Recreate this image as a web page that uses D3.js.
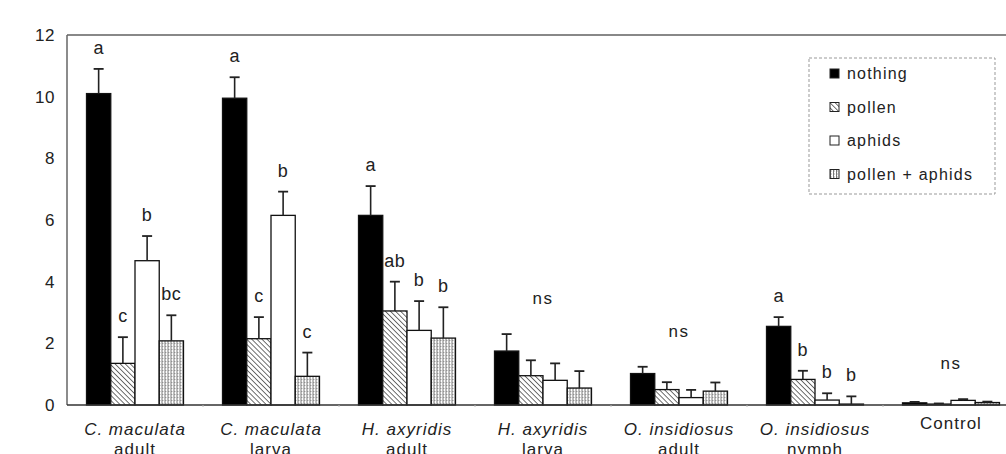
<!DOCTYPE html>
<html>
<head>
<meta charset="utf-8">
<script src="https://cdn.jsdelivr.net/npm/d3@7"></script>
<style>
  body { margin: 0; background: #fff; }
  svg { display: block; font-family: "Liberation Sans", Arial, sans-serif; }
</style>
</head>
<body>
<div id="chart"></div>
<script>
// data
var species = ["C. maculata", "C. maculata", "H. axyridis", "H. axyridis", "O. insidiosus", "O. insidiosus", "Control"];
var stages  = ["adult", "larva", "adult", "larva", "adult", "nymph", ""];
var series  = ["nothing", "pollen", "aphids", "pollen + aphids"];

var nothing    = [10.1, 9.95, 6.15, 1.75, 1.02, 2.55, 0.07];
var pollen     = [1.35, 2.15, 3.05, 0.95, 0.5, 0.83, 0.03];
var aphids     = [4.68, 6.15, 2.42, 0.8, 0.24, 0.16, 0.15];
var pollenAph  = [2.08, 0.93, 2.17, 0.55, 0.45, 0.03, 0.08];

var errNothing   = [0.8, 0.68, 0.95, 0.55, 0.22, 0.3, 0.03];
var errPollen    = [0.85, 0.7, 0.95, 0.5, 0.24, 0.28, 0.02];
var errAphids    = [0.8, 0.77, 0.95, 0.55, 0.25, 0.22, 0.04];
var errPollenAph = [0.83, 0.77, 1.0, 0.55, 0.28, 0.25, 0.03];

var letters = [["a", "c", "b", "bc"], ["a", "c", "b", "c"], ["a", "ab", "b", "b"], null, null, ["a", "b", "b", "b"], null];
var yTicks  = [0, 2, 4, 6, 8, 10, 12];

var values = [nothing, pollen, aphids, pollenAph];
var errors = [errNothing, errPollen, errAphids, errPollenAph];

const width = 1006, height = 454;
const mLeft = 67, mTop = 35, mBottom = 405, mRight = 1019;

const svg = d3.select("#chart").append("svg")
  .attr("width", width).attr("height", height);

// fill patterns
var defs = svg.append("defs");
var hatch = defs.append("pattern").attr("id", "hatch")
  .attr("patternUnits", "userSpaceOnUse").attr("width", 3.6).attr("height", 3.6)
  .attr("patternTransform", "rotate(-45)");
hatch.append("rect").attr("width", 3.6).attr("height", 3.6).attr("fill", "#fff");
hatch.append("line").attr("x1", 0).attr("y1", 0).attr("x2", 0).attr("y2", 3.6)
  .attr("stroke", "#222").attr("stroke-width", 1.3);

var stipple = defs.append("pattern").attr("id", "stipple")
  .attr("patternUnits", "userSpaceOnUse").attr("width", 3).attr("height", 3);
stipple.append("rect").attr("width", 3).attr("height", 3).attr("fill", "#fff");
stipple.append("rect").attr("x", 0).attr("y", 0).attr("width", 1).attr("height", 3).attr("fill", "#777");
stipple.append("rect").attr("x", 1).attr("y", 1).attr("width", 1).attr("height", 1).attr("fill", "#aaa");

var fills = ["#000", "url(#hatch)", "#fff", "url(#stipple)"];

// scales
var x0 = d3.scaleBand().domain(d3.range(species.length))
  .range([mLeft, mRight]).paddingInner(0.287).paddingOuter(0.1435);
var x1 = d3.scaleBand().domain(d3.range(series.length)).range([0, x0.bandwidth()]);
var y = d3.scaleLinear().domain([0, 12]).range([mBottom, mTop]);

// frame
svg.append("line").attr("x1", mLeft).attr("x2", width).attr("y1", mTop).attr("y2", mTop)
  .attr("stroke", "#888").attr("stroke-width", 2);
svg.append("line").attr("x1", mLeft).attr("x2", mLeft).attr("y1", mTop).attr("y2", mBottom)
  .attr("stroke", "#666").attr("stroke-width", 1.5);

// y axis labels
svg.selectAll(".ytick").data(yTicks).enter().append("text")
  .attr("x", 55).attr("y", d => y(d) + 6)
  .attr("text-anchor", "end").attr("font-size", 17).attr("letter-spacing", 0.5)
  .attr("fill", "#222").text(d => d);

// bars
var groups = svg.selectAll(".grp").data(species).enter().append("g")
  .attr("transform", (d, i) => "translate(" + x0(i) + ",0)");

groups.each(function(d, gi) {
  var g = d3.select(this);
  series.forEach(function(s, si) {
    var v = values[si][gi], e = errors[si][gi];
    var bx = x1(si), bw = x1.bandwidth(), cx = bx + bw / 2;
    g.append("rect")
      .attr("x", bx).attr("y", y(v))
      .attr("width", bw).attr("height", y(0) - y(v))
      .attr("fill", fills[si]).attr("stroke", "#111").attr("stroke-width", 1.3);
    g.append("line").attr("x1", cx).attr("x2", cx).attr("y1", y(v)).attr("y2", y(v + e))
      .attr("stroke", "#222").attr("stroke-width", 1.6);
    g.append("line").attr("x1", cx - 5).attr("x2", cx + 5).attr("y1", y(v + e)).attr("y2", y(v + e))
      .attr("stroke", "#222").attr("stroke-width", 1.8);
    if (letters[gi]) {
      g.append("text").attr("x", cx).attr("y", y(v + e) - 15)
        .attr("text-anchor", "middle").attr("font-size", 18).attr("letter-spacing", 0.5)
        .attr("fill", "#222").text(letters[gi][si]);
    }
  });
  if (!letters[gi]) {
    var top4 = d3.max(series, (s, si) => values[si][gi] + errors[si][gi]);
    g.append("text").attr("x", x0.bandwidth() / 2).attr("y", y(top4) - 30)
      .attr("text-anchor", "middle").attr("font-size", 17).attr("letter-spacing", 1.5)
      .attr("fill", "#222").text("ns");
  }
});

// x axis
svg.append("line").attr("x1", mLeft).attr("x2", width).attr("y1", mBottom).attr("y2", mBottom)
  .attr("stroke", "#333").attr("stroke-width", 1.5);
svg.selectAll(".xtick").data(d3.range(1, species.length)).enter().append("line")
  .attr("x1", d => mLeft + d * x0.step()).attr("x2", d => mLeft + d * x0.step())
  .attr("y1", mBottom).attr("y2", mBottom + 2)
  .attr("stroke", "#bbb").attr("stroke-width", 1);

// category labels
species.forEach(function(s, i) {
  var cx = x0(i) + x0.bandwidth() / 2;
  var lab = svg.append("text").attr("x", cx).attr("text-anchor", "middle")
    .attr("font-size", 17).attr("letter-spacing", 1).attr("fill", "#222");
  if (stages[i] === "") {
    lab.attr("y", 429).text(s);
  } else {
    lab.attr("y", 435).attr("font-style", "italic").text(s);
    svg.append("text").attr("x", cx).attr("y", 455).attr("text-anchor", "middle")
      .attr("font-size", 17).attr("letter-spacing", 1).attr("fill", "#222").text(stages[i]);
  }
});

// legend
var lg = svg.append("g").attr("transform", "translate(809,58)");
lg.append("rect").attr("width", 186).attr("height", 136)
  .attr("fill", "#fff").attr("stroke", "#999").attr("stroke-width", 1)
  .attr("stroke-dasharray", "3,2");
var items = lg.selectAll(".item").data(series).enter().append("g")
  .attr("transform", (d, i) => "translate(21," + (17 + i * 33.5) + ")");
items.append("rect").attr("x", 0).attr("y", -6).attr("width", 9).attr("height", 9)
  .attr("fill", (d, i) => fills[i]).attr("stroke", "#222").attr("stroke-width", 1);
items.append("text").attr("x", 17).attr("y", 4)
  .attr("font-size", 16).attr("letter-spacing", 1.2).attr("fill", "#222").text(d => d);
</script>
</body>
</html>
